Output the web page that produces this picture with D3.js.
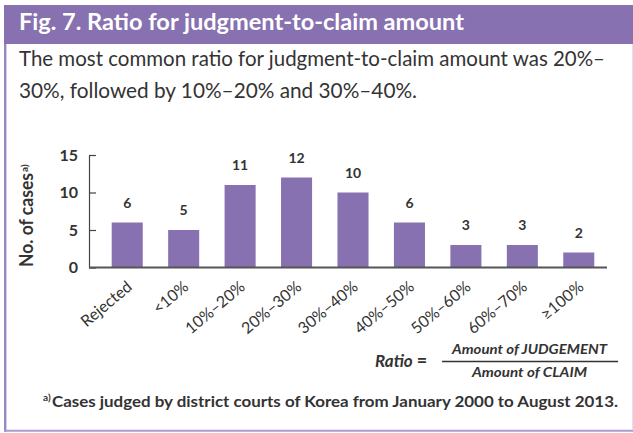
<!DOCTYPE html>
<html><head><meta charset="utf-8">
<script src="https://cdn.jsdelivr.net/npm/d3@7"></script>
<style>body{margin:0;background:#fff}svg{display:block}</style>
</head><body>
<svg id="chart" width="633" height="433"></svg>
<script>
const categories = ["Rejected", "<10%", "10%–20%", "20%–30%", "30%–40%", "40%–50%", "50%–60%", "60%–70%", "≥100%"];
const cases = [6, 5, 11, 12, 10, 6, 3, 3, 2];
const yTickValues = [0, 5, 10, 15];
const titleText = "Fig. 7. Ratio for judgment-to-claim amount";
const subtitleLines = ["The most common ratio for judgment-to-claim amount was 20%–", "30%, followed by 10%–20% and 30%–40%."];
const yAxisTitle = "No. of cases";
const footnoteText = "Cases judged by district courts of Korea from January 2000 to August 2013.";
const formulaLeft = "Ratio";
const formulaNum = "Amount of JUDGEMENT";
const formulaDen = "Amount of CLAIM";

const purple = "#8771b0";
const textCol = "#333";
const FONT = "Lato, 'Open Sans', sans-serif";

const svg = d3.select("#chart").style("font-family", FONT);

// frame
svg.append("rect").attr("x", 4).attr("y", 5).attr("width", 629).attr("height", 39).attr("fill", purple);
svg.append("line").attr("x1", 5.2).attr("x2", 5.2).attr("y1", 44).attr("y2", 432).attr("stroke", "#9a87c2").attr("stroke-width", 2.4);
svg.append("line").attr("x1", 4).attr("x2", 633).attr("y1", 430.8).attr("y2", 430.8).attr("stroke", "#ab9bd0").attr("stroke-width", 2);
svg.append("line").attr("x1", 632.5).attr("x2", 632.5).attr("y1", 44).attr("y2", 430).attr("stroke", "#e4e0ec").attr("stroke-width", 1);

// title
svg.append("text").attr("x", 19).attr("y", 30).attr("fill", "#fff").attr("font-size", 22).attr("font-weight", 700)
  .attr("textLength", 445).attr("lengthAdjust", "spacingAndGlyphs").text(titleText);

// subtitle
const subEnds = [605, 417];
subtitleLines.forEach((t, i) => {
  svg.append("text").attr("x", 19).attr("y", 66 + i * 32).attr("fill", textCol).attr("font-size", 21)
    .attr("textLength", subEnds[i] - 19).attr("lengthAdjust", "spacingAndGlyphs").text(t);
});

// scales
const x = d3.scaleBand().domain(categories).range([99, 607]).paddingInner(0.45).paddingOuter(0.225);
const y = d3.scaleLinear().domain([0, 15]).range([267.5, 155]);

// bars
svg.append("g").selectAll("rect").data(cases).join("rect")
  .attr("x", (d, i) => x(categories[i]))
  .attr("width", x.bandwidth())
  .attr("y", d => y(d))
  .attr("height", d => y(0) - y(d))
  .attr("fill", purple);

// value labels
svg.append("g").selectAll("text").data(cases).join("text")
  .attr("x", (d, i) => x(categories[i]) + x.bandwidth() / 2)
  .attr("y", d => y(d) - 15)
  .attr("text-anchor", "middle").attr("font-size", 14).attr("font-weight", 700).attr("fill", textCol)
  .text(d => d);

// y axis
const yAxis = d3.axisLeft(y).tickValues(yTickValues).tickSizeInner(-7).tickSizeOuter(0).tickPadding(11);
const gy = svg.append("g").attr("transform", "translate(89,0)").call(yAxis);
gy.select(".domain").attr("stroke", "#444").attr("stroke-width", 1.2);
gy.selectAll(".tick line").attr("stroke", "#444").attr("stroke-width", 1.2);
gy.selectAll(".tick text").attr("font-size", 16).attr("font-weight", 700).attr("fill", textCol)
  .attr("font-family", FONT);

// x axis
const xAxis = d3.axisBottom(x).tickSize(0).tickPadding(0);
const gx = svg.append("g").attr("transform", `translate(0,${y(0)})`).call(xAxis);
gx.select(".domain").remove();
svg.append("line").attr("x1", 89).attr("x2", 607).attr("y1", y(0)).attr("y2", y(0))
  .attr("stroke", "#555").attr("stroke-width", 2.2);
gx.selectAll(".tick text")
  .attr("font-family", FONT).attr("font-size", 16).attr("fill", textCol)
  .attr("text-anchor", "end").attr("y", 0).attr("dy", 0)
  .attr("transform", "translate(6,21) rotate(-40)");

// y axis title
svg.append("text").attr("transform", "translate(33,267) rotate(-90)")
  .attr("font-size", 18).attr("font-weight", 700).attr("fill", textCol)
  .attr("textLength", 94).attr("lengthAdjust", "spacingAndGlyphs").text(yAxisTitle);
svg.append("text").attr("transform", "translate(28,172) rotate(-90)")
  .attr("font-size", 10).attr("font-weight", 700).attr("fill", textCol).text("a)");

// formula
svg.append("text").attr("x", 375).attr("y", 367).attr("font-size", 17).attr("font-weight", 700)
  .attr("font-style", "italic").attr("fill", textCol).text(formulaLeft);
svg.append("text").attr("x", 422).attr("y", 367).attr("font-size", 18).attr("font-weight", 700)
  .attr("text-anchor", "middle").attr("fill", textCol).text("=");
svg.append("line").attr("x1", 442).attr("x2", 618).attr("y1", 361.5).attr("y2", 361.5)
  .attr("stroke", "#333").attr("stroke-width", 1.3);
svg.append("text").attr("x", 452).attr("y", 354).attr("font-size", 14).attr("font-weight", 700)
  .attr("font-style", "italic").attr("fill", textCol)
  .attr("textLength", 155).attr("lengthAdjust", "spacingAndGlyphs").text(formulaNum);
svg.append("text").attr("x", 472).attr("y", 377).attr("font-size", 14).attr("font-weight", 700)
  .attr("font-style", "italic").attr("fill", textCol)
  .attr("textLength", 115).attr("lengthAdjust", "spacingAndGlyphs").text(formulaDen);

// footnote
svg.append("text").attr("x", 43).attr("y", 401).attr("font-size", 10).attr("font-weight", 700)
  .attr("fill", textCol).text("a)");
svg.append("text").attr("x", 52).attr("y", 407).attr("font-size", 16).attr("font-weight", 700)
  .attr("fill", textCol).attr("textLength", 566).attr("lengthAdjust", "spacingAndGlyphs").text(footnoteText);
</script>
</body></html>
